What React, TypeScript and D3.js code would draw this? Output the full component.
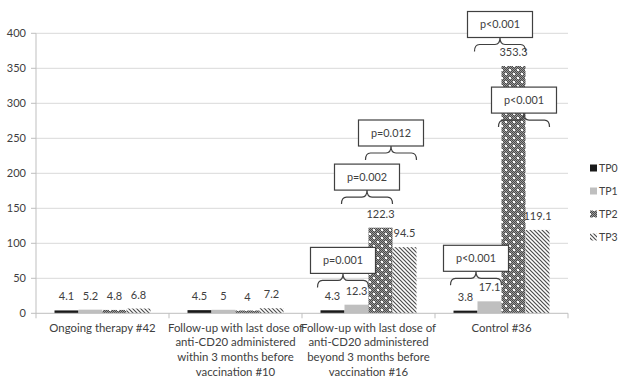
import React from "react";
import * as d3 from "d3";

const categories: string[][] = [
  ["Ongoing therapy #42"],
  ["Follow-up with last dose of", "anti-CD20 administered", "within 3 months before", "vaccination #10"],
  ["Follow-up with last dose of", "anti-CD20 administered", "beyond 3 months before", "vaccination #16"],
  ["Control #36"],
];
const seriesNames = ["TP0", "TP1", "TP2", "TP3"];
const tp0 = [4.1, 4.5, 4.3, 3.8];
const tp1 = [5.2, 5, 12.3, 17.1];
const tp2 = [4.8, 4, 122.3, 353.3];
const tp3 = [6.8, 7.2, 94.5, 119.1];
const seriesValues = [tp0, tp1, tp2, tp3];
const yTicks = [0, 50, 100, 150, 200, 250, 300, 350, 400];

// p-value annotations: category index, compared series, label, level (data units) of brace tip
const annCat = [2, 2, 2, 3, 3, 3];
const annFrom = [0, 1, 2, 0, 1, 2];
const annTo = [1, 2, 3, 1, 2, 3];
const annLabel = ["p=0.001", "p=0.002", "p=0.012", "p<0.001", "p<0.001", "p<0.001"];
const annLevel = [57, 176, 239, 60, 394, 286];

const W = 619;
const H = 379;
const FONT = "Lato, 'Liberation Sans', Arial, sans-serif";
const TXT = "#404040";

export default function App() {
  const x = d3.scaleBand<number>().domain(d3.range(categories.length)).range([36, 568]).padding(0);
  const xs = d3
    .scaleBand<string>()
    .domain(seriesNames)
    .range([0, x.bandwidth()])
    .paddingInner(0)
    .paddingOuter(0.771);
  const y = d3.scaleLinear().domain([0, 400]).range([313.3, 33.3]);
  const fills = ["#1a1a1a", "#bfbfbf", "url(#pTP2)", "url(#pTP3)"];

  const checker: JSX.Element[] = [];
  for (let i = 0; i < 8; i++)
    for (let j = 0; j < 8; j++)
      if ((i + j) % 2 === 0) checker.push(<rect key={`${i}-${j}`} x={i} y={j} width={1} height={1} fill="#4a4a4a" />);

  const bw = xs.bandwidth();

  const bracePath = (x0: number, x1: number, yt: number) => {
    const hgt = 14;
    const ym = yt + hgt / 2;
    const yb = yt + hgt;
    const xc = (x0 + x1) / 2;
    const r = 5;
    return `M${x0},${yb} Q${x0},${ym} ${x0 + r},${ym} L${xc - r},${ym} Q${xc},${ym} ${xc},${yt} Q${xc},${ym} ${xc + r},${ym} L${x1 - r},${ym} Q${x1},${ym} ${x1},${yb}`;
  };

  return (
    <svg
      width={W}
      height={H}
      style={{ position: "absolute", left: 0, top: 0, background: "#fff" }}
      fontFamily={FONT}
    >
      <defs>
        <pattern id="pTP2" patternUnits="userSpaceOnUse" width={8} height={8}>
          <rect width={8} height={8} fill="#9a9a9a" />
          {checker}
          <rect x={1} y={1} width={2} height={2} fill="#fff" />
          <rect x={5} y={5} width={2} height={2} fill="#fff" />
        </pattern>
        <pattern id="pTP3" patternUnits="userSpaceOnUse" width={4} height={4}>
          <rect width={4} height={4} fill="#fff" />
          <path d="M-1,-1 L5,5 M-1,3 L1,5 M3,-1 L5,1" stroke="#4d4d4d" strokeWidth={1.2} />
        </pattern>
      </defs>

      {/* gridlines */}
      {yTicks.filter((t) => t > 0).map((t) => (
        <line key={t} x1={36} x2={568} y1={y(t)} y2={y(t)} stroke="#d9d9d9" strokeWidth={1} />
      ))}
      {/* y axis */}
      <line x1={36} x2={36} y1={y(400)} y2={y(0)} stroke="#bfbfbf" />
      {yTicks.map((t) => (
        <g key={t}>
          <line x1={31} x2={36} y1={y(t)} y2={y(t)} stroke="#bfbfbf" />
          <text x={26} y={y(t)} dy="0.35em" textAnchor="end" fontSize={11} fill={TXT}>
            {t}
          </text>
        </g>
      ))}

      {/* bars */}
      {seriesValues.map((vals, si) =>
        vals.map((v, ci) => {
          const bx = (x(ci) as number) + (xs(seriesNames[si]) as number);
          return (
            <rect
              key={`${si}-${ci}`}
              x={bx}
              y={y(v)}
              width={bw}
              height={y(0) - y(v)}
              fill={fills[si]}
            />
          );
        })
      )}

      {/* x axis */}
      <line x1={36} x2={568} y1={y(0)} y2={y(0)} stroke="#bfbfbf" />
      {d3.range(categories.length + 1).map((i) => {
        const tx = 36 + i * x.bandwidth();
        return <line key={i} x1={tx} x2={tx} y1={y(0)} y2={y(0) + 5} stroke="#bfbfbf" />;
      })}

      {/* value labels */}
      {seriesValues.map((vals, si) =>
        vals.map((v, ci) => {
          const cx = (x(ci) as number) + (xs(seriesNames[si]) as number) + bw / 2;
          return (
            <text key={`l${si}-${ci}`} x={cx} y={y(v) - 10} textAnchor="middle" fontSize={11} fill={TXT}>
              {v}
            </text>
          );
        })
      )}

      {/* category labels */}
      {categories.map((lines, ci) => (
        <text key={ci} textAnchor="middle" fontSize={11.4} fill={TXT}>
          {lines.map((ln, li) => (
            <tspan key={li} x={(x(ci) as number) + x.bandwidth() / 2} y={331.5 + li * 14.8}>
              {ln}
            </tspan>
          ))}
        </text>
      ))}

      {/* annotations */}
      {annLabel.map((lab, ai) => {
        const c = annCat[ai];
        const x0 = (x(c) as number) + (xs(seriesNames[annFrom[ai]]) as number) - 3;
        const x1 = (x(c) as number) + (xs(seriesNames[annTo[ai]]) as number) + bw;
        const xc = (x0 + x1) / 2;
        const yt = y(annLevel[ai]);
        const boxW = 65;
        const boxH = 26;
        return (
          <g key={ai}>
            <rect x={xc - boxW / 2} y={yt - boxH} width={boxW} height={boxH} fill="#fff" stroke="#404040" strokeWidth={1.2} />
            <text x={xc} y={yt - boxH / 2} dy="0.35em" textAnchor="middle" fontSize={10.8} fill={TXT}>
              {lab}
            </text>
            <path d={bracePath(x0, x1, yt)} fill="none" stroke="#404040" strokeWidth={1.2} />
          </g>
        );
      })}

      {/* legend */}
      {seriesNames.map((s, si) => {
        const ly = 168 + si * 23;
        return (
          <g key={s}>
            <rect x={590} y={ly - 3.5} width={7} height={7} fill={fills[si]} />
            <text x={599} y={ly} dy="0.35em" fontSize={10.5} fill={TXT}>
              {s}
            </text>
          </g>
        );
      })}
    </svg>
  );
}
